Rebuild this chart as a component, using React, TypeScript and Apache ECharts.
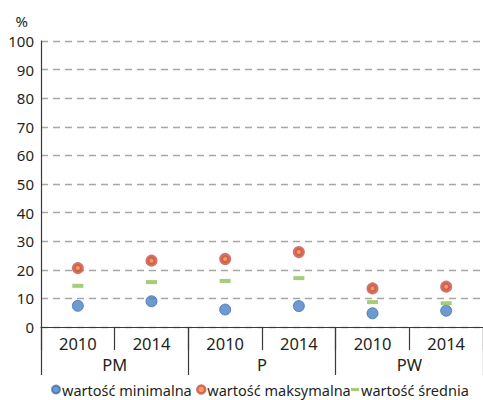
import React, { useEffect, useRef } from "react";
import * as echarts from "echarts";

const years = ["2010", "2014", "2010", "2014", "2010", "2014"];
const groups = ["PM", "P", "PW"];
const yTicks = [0, 10, 20, 30, 40, 50, 60, 70, 80, 90, 100];
const minValues = [7.4, 9.0, 6.1, 7.3, 4.8, 5.7];
const maxValues = [20.6, 23.2, 23.8, 26.2, 13.5, 14.1];
const meanValues = [14.4, 15.7, 16.1, 17.1, 8.7, 8.3];
const seriesNames = ["wartość minimalna", "wartość maksymalna", "wartość średnia"];

const FONT = "'Noto Sans', sans-serif";
const TXT = "#231f20";

export default function App() {
  const ref = useRef<HTMLDivElement>(null);
  useEffect(() => {
    if (!ref.current) return;
    const chart = echarts.init(ref.current, undefined, { renderer: "svg" });
    const legendBase = {
      orient: "horizontal",
      top: 382,
      itemGap: 0,
      padding: 0,
      textStyle: { fontFamily: FONT, fontSize: 14.5, lineHeight: 15, color: TXT, padding: [0, 0, 0, -3] },
      selectedMode: false,
    };
    chart.setOption({
      animation: false,
      textStyle: { fontFamily: FONT },
      grid: { left: 41, top: 41, bottom: 73, right: -8, containLabel: false },
      legend: [
        { ...legendBase, left: 51, itemWidth: 8, itemHeight: 8, data: [{ name: seriesNames[0], icon: "circle" }] },
        {
          ...legendBase, left: 196, itemWidth: 8, itemHeight: 8,
          data: [{ name: seriesNames[1], icon: "circle", itemStyle: { color: "#f0862f", borderColor: "#c8504a", borderWidth: 2.5 } }],
        },
        { ...legendBase, left: 351, itemWidth: 8, itemHeight: 3, data: [{ name: seriesNames[2], icon: "rect" }] },
      ],
      xAxis: [
        {
          type: "category",
          data: years,
          position: "bottom",
          boundaryGap: true,
          axisLine: { show: true, lineStyle: { color: "#3a3a3a", width: 1.2 } },
          axisTick: { show: true, interval: 0, length: 23, lineStyle: { color: "#3a3a3a", width: 1.2 } },
          axisLabel: { interval: 0, margin: 8, fontSize: 16.5, color: TXT, fontFamily: FONT },
        },
        {
          type: "category",
          data: groups,
          position: "bottom",
          boundaryGap: true,
          axisLine: { show: false },
          axisTick: { show: true, interval: 0, length: 48, lineStyle: { color: "#3a3a3a", width: 1.2 } },
          axisLabel: { interval: 0, margin: 29, fontSize: 16.5, color: TXT, fontFamily: FONT },
        },
      ],
      yAxis: {
        type: "value",
        min: yTicks[0],
        max: yTicks[yTicks.length - 1],
        interval: 10,
        name: "%",
        nameLocation: "end",
        nameGap: 20,
        nameTextStyle: { align: "right", verticalAlign: "middle", padding: [0, 13, 0, 0], fontSize: 15, color: TXT, fontFamily: FONT },
        axisLine: { show: true, lineStyle: { color: "#3a3a3a", width: 1.2 } },
        axisTick: { show: false },
        axisLabel: { margin: 7, fontSize: 15, color: TXT, fontFamily: FONT },
        splitLine: { show: true, lineStyle: { color: "#a6a6a6", type: [7, 5], width: 1.3 } },
      },
      series: [
        {
          name: seriesNames[0],
          type: "scatter",
          data: minValues,
          symbol: "circle",
          symbolSize: 11,
          itemStyle: { color: "#4a81c4", borderColor: "#3d72b4", borderWidth: 1 },
        },
        {
          name: seriesNames[1],
          type: "scatter",
          data: maxValues,
          symbol: "circle",
          symbolSize: 8,
          itemStyle: { color: "#f0862f", borderColor: "#c8504a", borderWidth: 4 },
        },
        {
          name: seriesNames[2],
          type: "scatter",
          data: meanValues,
          symbol: "rect",
          symbolSize: [11, 4],
          itemStyle: { color: "#8fbf55" },
        },
      ],
    });
    return () => chart.dispose();
  }, []);
  return <div ref={ref} style={{ position: "absolute", left: 0, top: 0, width: 483, height: 400 }} />;
}
